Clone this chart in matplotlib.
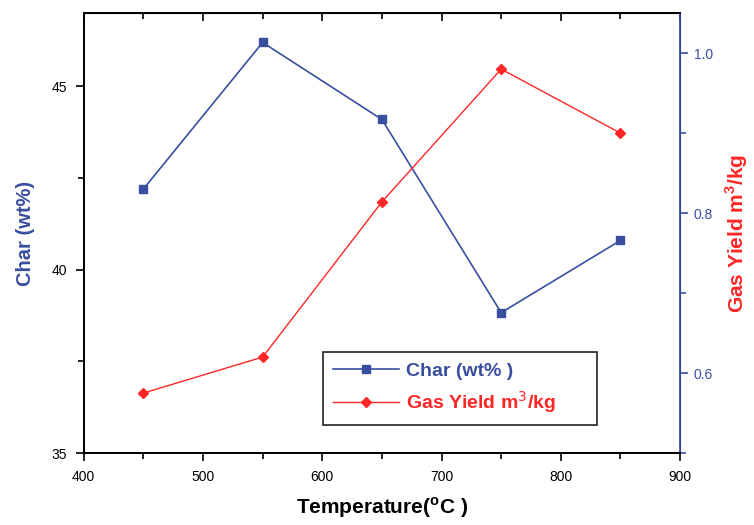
import matplotlib
matplotlib.use("Agg")
import matplotlib.pyplot as plt
from matplotlib.ticker import MultipleLocator

plt.rcParams['font.family'] = ['Liberation Sans', 'DejaVu Sans']

temps = [450, 550, 650, 750, 850]
char = [42.2, 46.2, 44.1, 38.83, 40.8]
gas = [0.575, 0.62, 0.814, 0.98, 0.90]

blue = '#3a4ea0'
red = '#ff2626'

fig = plt.figure(figsize=(7.54, 5.25), dpi=100)
ax = fig.add_axes([0.111, 0.137, 0.791, 0.838])
ax2 = ax.twinx()

l1, = ax.plot(temps, char, color=blue, marker='s', markersize=6, lw=1.2,
              label='Char (wt% )')
l2, = ax2.plot(temps, gas, color=red, marker='D', markersize=5.5, lw=1.0,
               label='Gas Yield m$^3$/kg')

ax.set_xlim(400, 900)
ax.set_ylim(35, 47)
ax2.set_ylim(0.5, 1.05)

ax.xaxis.set_major_locator(MultipleLocator(100))
ax.xaxis.set_minor_locator(MultipleLocator(50))
ax.yaxis.set_major_locator(MultipleLocator(5))
ax.yaxis.set_minor_locator(MultipleLocator(2.5))
ax2.yaxis.set_major_locator(MultipleLocator(0.2))
ax2.yaxis.set_minor_locator(MultipleLocator(0.1))
ax2.yaxis.set_major_formatter(plt.FormatStrFormatter('%.1f'))

ax.tick_params(axis='x', which='both', direction='out', top=False, labelsize=10, pad=6)
ax.tick_params(axis='x', which='major', length=6, width=1.2)
ax.tick_params(axis='x', which='minor', length=4, width=1.2)
ax.tick_params(axis='y', which='major', length=6, width=1.2, labelsize=10, pad=6)
ax.tick_params(axis='y', which='minor', length=4, width=1.2)
ax2.tick_params(axis='y', which='major', length=6, width=1.2, colors=blue, labelsize=10, pad=4)
ax2.tick_params(axis='y', which='minor', length=4, width=1.2, colors=blue)

# inward ticks on the top spine
top = ax.secondary_xaxis('top')
top.xaxis.set_major_locator(MultipleLocator(100))
top.xaxis.set_minor_locator(MultipleLocator(50))
top.tick_params(which='both', direction='in', labeltop=False, width=1.2)
top.tick_params(which='major', length=6)
top.tick_params(which='minor', length=4)

for s in ['left', 'bottom', 'top']:
    ax.spines[s].set_linewidth(1.3)
    ax2.spines[s].set_linewidth(1.3)
ax2.spines['right'].set_color(blue)
ax2.spines['right'].set_linewidth(1.3)

ax.set_xlabel('Temperature($^{\\mathregular{o}}$C )', fontsize=15, fontweight='bold',
              labelpad=8)
ax.set_ylabel('Char (wt%)', fontsize=14.5, fontweight='bold', color=blue, labelpad=12)
ax2.set_ylabel('Gas Yield m$^{\\mathregular{3}}$/kg', fontsize=15, fontweight='bold',
               color=red, labelpad=7)

leg = ax.legend(handles=[l1, l2], loc='lower left',
                bbox_to_anchor=(0.401, 0.064, 0.46, 0.166), mode='expand',
                fancybox=False, edgecolor='#222222', framealpha=1,
                fontsize=14, handlelength=3.4, handletextpad=0.4,
                borderpad=0.5, borderaxespad=0)
leg.get_frame().set_linewidth(1.2)
for t, c in zip(leg.get_texts(), [blue, red]):
    t.set_color(c)
    t.set_fontweight('bold')

fig.savefig('out.png', dpi=100)
